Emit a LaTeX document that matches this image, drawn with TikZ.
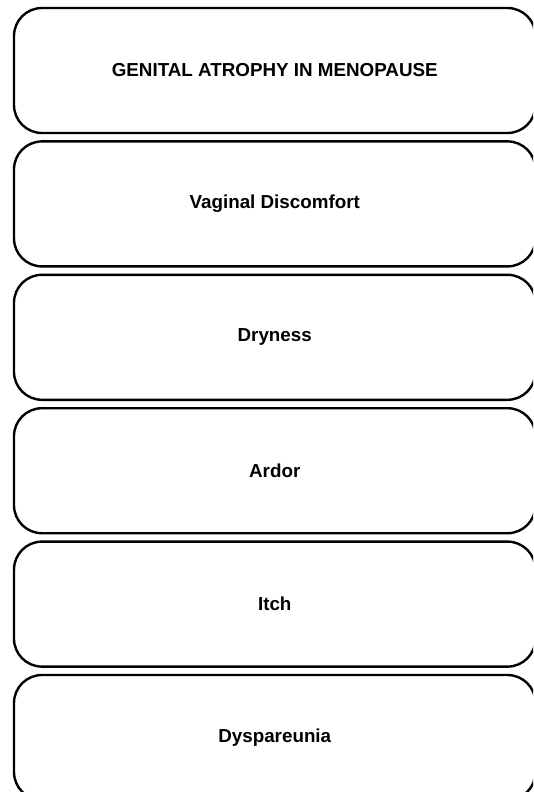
\documentclass[tikz,border=0pt]{standalone}
\usepackage{fontspec}
\setmainfont{Liberation Sans}
\begin{document}
\begin{tikzpicture}[x=1pt,y=1pt,
  box/.style={draw=black, line width=2.4pt, rounded corners=28pt, minimum width=521.5pt, minimum height=125pt, inner sep=0pt, font=\fontsize{18.8}{22}\selectfont\bfseries, text=black}]
\useasboundingbox (0,0) rectangle (533,-792);
\clip (0,0) rectangle (533,-792);
\node[box] (b1) at (274.75,-70.5) {GENITAL ATROPHY IN MENOPAUSE};
\node[box] (b2) at (274.75,-203.9) {Vaginal Discomfort};
\node[box] (b3) at (274.75,-337.3) {Dryness};
\node[box] (b4) at (274.75,-470.7) {Ardor};
\node[box] (b5) at (274.75,-604.1) {Itch};
\node[box] (b6) at (274.75,-737.5) {Dyspareunia};
\end{tikzpicture}
\end{document}
